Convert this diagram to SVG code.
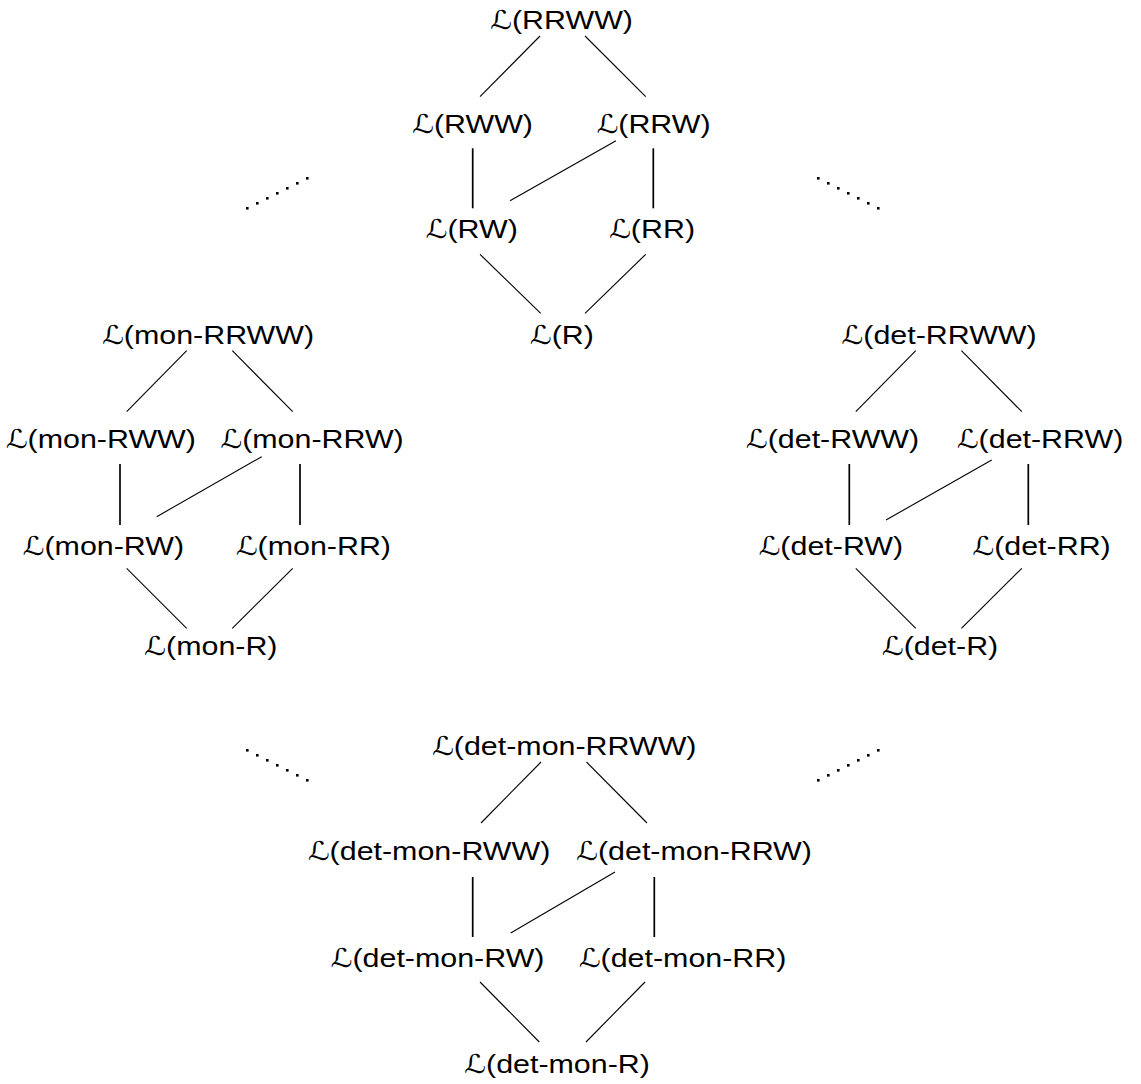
<svg xmlns="http://www.w3.org/2000/svg" xmlns:xlink="http://www.w3.org/1999/xlink" width="1141" height="1084" viewBox="0 0 1141 1084">
  <style>
    .lbl { font-family: "Liberation Sans", Arial, sans-serif; font-size: 26px; fill: #000; text-anchor: middle; }
    .cal { font-family: "DejaVu Serif", "DejaVu Sans", serif; }
    .edge { stroke: #000; stroke-width: 1.1; fill: none; }
    .edge .v { stroke-width: 1.7; }
    .dot { fill: #000; }
  </style>
  <defs>
    <rect id="dot" class="dot" x="-1.3" y="-1.3" width="2.6" height="2.6"/>
  </defs>
  <rect width="1141" height="1084" fill="#fff"/>

  <!-- connectors -->
  <g id="connectors" class="edge">
    <!-- base lattice -->
    <line x1="540" y1="36" x2="480" y2="96.7"/>
    <line x1="585" y1="36" x2="645.7" y2="96.7"/>
    <line class="v" x1="472.7" y1="148.3" x2="472.7" y2="208.3"/>
    <line class="v" x1="653.3" y1="148.3" x2="653.3" y2="208.3"/>
    <line x1="616" y1="140.7" x2="510" y2="200.7"/>
    <line x1="480" y1="254.3" x2="540.7" y2="313.3"/>
    <line x1="645.7" y1="254.3" x2="585" y2="313.3"/>
    <!-- mon lattice -->
    <line x1="186.7" y1="350.7" x2="126.7" y2="411.7"/>
    <line x1="232.3" y1="350.7" x2="292.7" y2="411.7"/>
    <line class="v" x1="120" y1="464" x2="120" y2="525"/>
    <line class="v" x1="300" y1="464" x2="300" y2="525"/>
    <line x1="261.7" y1="456.7" x2="156.7" y2="516.7"/>
    <line x1="126.7" y1="568.3" x2="186.7" y2="628.3"/>
    <line x1="292.7" y1="568.3" x2="232.3" y2="628.3"/>
    <!-- det lattice -->
    <line x1="915.8" y1="350.7" x2="855.8" y2="411.7"/>
    <line x1="961.4" y1="350.7" x2="1021.8" y2="411.7"/>
    <line class="v" x1="849.3" y1="464" x2="849.3" y2="525"/>
    <line class="v" x1="1028.3" y1="464" x2="1028.3" y2="525"/>
    <line x1="991.7" y1="460" x2="886" y2="520"/>
    <line x1="855.8" y1="568.3" x2="915.8" y2="628.3"/>
    <line x1="1021.8" y1="568.3" x2="961.4" y2="628.3"/>
    <!-- det-mon lattice -->
    <line x1="541" y1="762" x2="481" y2="823"/>
    <line x1="586.5" y1="762" x2="647" y2="823"/>
    <line class="v" x1="472.7" y1="877" x2="472.7" y2="937"/>
    <line class="v" x1="654.3" y1="877" x2="654.3" y2="937"/>
    <line x1="615" y1="872" x2="510.7" y2="933"/>
    <line x1="480" y1="982" x2="539.3" y2="1042"/>
    <line x1="645" y1="982" x2="586" y2="1042"/>
  </g>

  <!-- diagonal ellipses between the lattices -->
  <g id="ellipses">
    <use xlink:href="#dot" x="247.3" y="208.3"/><use xlink:href="#dot" x="257.3" y="203.3"/><use xlink:href="#dot" x="267.3" y="198.3"/><use xlink:href="#dot" x="277.3" y="193.3"/><use xlink:href="#dot" x="287.3" y="188.3"/><use xlink:href="#dot" x="297.3" y="183.3"/><use xlink:href="#dot" x="307.3" y="178.3"/>
    <use xlink:href="#dot" x="818.3" y="178.3"/><use xlink:href="#dot" x="828.3" y="183.3"/><use xlink:href="#dot" x="838.3" y="188.3"/><use xlink:href="#dot" x="848.3" y="193.3"/><use xlink:href="#dot" x="858.3" y="198.3"/><use xlink:href="#dot" x="868.3" y="203.3"/><use xlink:href="#dot" x="878.3" y="208.3"/>
    <use xlink:href="#dot" x="247.3" y="750.3"/><use xlink:href="#dot" x="257.3" y="755.3"/><use xlink:href="#dot" x="267.3" y="760.3"/><use xlink:href="#dot" x="277.3" y="765.3"/><use xlink:href="#dot" x="287.3" y="770.3"/><use xlink:href="#dot" x="297.3" y="775.3"/><use xlink:href="#dot" x="307.3" y="780.3"/>
    <use xlink:href="#dot" x="818.3" y="780.3"/><use xlink:href="#dot" x="828.3" y="775.3"/><use xlink:href="#dot" x="838.3" y="770.3"/><use xlink:href="#dot" x="848.3" y="765.3"/><use xlink:href="#dot" x="858.3" y="760.3"/><use xlink:href="#dot" x="868.3" y="755.3"/><use xlink:href="#dot" x="878.3" y="750.3"/>
  </g>

  <!-- base lattice nodes -->
  <g id="n-RRWW" transform="translate(561.5,29)"><text class="lbl" transform="scale(1.17,1)"><tspan class="cal">ℒ</tspan>(RRWW)</text></g>
  <g id="n-RWW" transform="translate(472.5,133)"><text class="lbl" transform="scale(1.17,1)"><tspan class="cal">ℒ</tspan>(RWW)</text></g>
  <g id="n-RRW" transform="translate(653.5,133)"><text class="lbl" transform="scale(1.17,1)"><tspan class="cal">ℒ</tspan>(RRW)</text></g>
  <g id="n-RW" transform="translate(471.7,238)"><text class="lbl" transform="scale(1.17,1)"><tspan class="cal">ℒ</tspan>(RW)</text></g>
  <g id="n-RR" transform="translate(652,238)"><text class="lbl" transform="scale(1.17,1)"><tspan class="cal">ℒ</tspan>(RR)</text></g>
  <g id="n-R" transform="translate(561.8,344)"><text class="lbl" transform="scale(1.17,1)"><tspan class="cal">ℒ</tspan>(R)</text></g>

  <!-- mon lattice nodes -->
  <g id="n-mon-RRWW" transform="translate(208,344.3)"><text class="lbl" transform="scale(1.17,1)"><tspan class="cal">ℒ</tspan>(mon-RRWW)</text></g>
  <g id="n-mon-RWW" transform="translate(100.8,448.3)"><text class="lbl" transform="scale(1.17,1)"><tspan class="cal">ℒ</tspan>(mon-RWW)</text></g>
  <g id="n-mon-RRW" transform="translate(312,448.3)"><text class="lbl" transform="scale(1.17,1)"><tspan class="cal">ℒ</tspan>(mon-RRW)</text></g>
  <g id="n-mon-RW" transform="translate(103.3,555)"><text class="lbl" transform="scale(1.17,1)"><tspan class="cal">ℒ</tspan>(mon-RW)</text></g>
  <g id="n-mon-RR" transform="translate(313.3,555)"><text class="lbl" transform="scale(1.17,1)"><tspan class="cal">ℒ</tspan>(mon-RR)</text></g>
  <g id="n-mon-R" transform="translate(210.8,655)"><text class="lbl" transform="scale(1.17,1)"><tspan class="cal">ℒ</tspan>(mon-R)</text></g>

  <!-- det lattice nodes -->
  <g id="n-det-RRWW" transform="translate(939,344.3)"><text class="lbl" transform="scale(1.17,1)"><tspan class="cal">ℒ</tspan>(det-RRWW)</text></g>
  <g id="n-det-RWW" transform="translate(832.5,448.3)"><text class="lbl" transform="scale(1.17,1)"><tspan class="cal">ℒ</tspan>(det-RWW)</text></g>
  <g id="n-det-RRW" transform="translate(1040,448.3)"><text class="lbl" transform="scale(1.17,1)"><tspan class="cal">ℒ</tspan>(det-RRW)</text></g>
  <g id="n-det-RW" transform="translate(830.8,555)"><text class="lbl" transform="scale(1.17,1)"><tspan class="cal">ℒ</tspan>(det-RW)</text></g>
  <g id="n-det-RR" transform="translate(1041.5,555)"><text class="lbl" transform="scale(1.17,1)"><tspan class="cal">ℒ</tspan>(det-RR)</text></g>
  <g id="n-det-R" transform="translate(940,655)"><text class="lbl" transform="scale(1.17,1)"><tspan class="cal">ℒ</tspan>(det-R)</text></g>

  <!-- det-mon lattice nodes -->
  <g id="n-det-mon-RRWW" transform="translate(564.2,755)"><text class="lbl" transform="scale(1.17,1)"><tspan class="cal">ℒ</tspan>(det-mon-RRWW)</text></g>
  <g id="n-det-mon-RWW" transform="translate(429,860)"><text class="lbl" transform="scale(1.17,1)"><tspan class="cal">ℒ</tspan>(det-mon-RWW)</text></g>
  <g id="n-det-mon-RRW" transform="translate(694,860)"><text class="lbl" transform="scale(1.17,1)"><tspan class="cal">ℒ</tspan>(det-mon-RRW)</text></g>
  <g id="n-det-mon-RW" transform="translate(437.5,967)"><text class="lbl" transform="scale(1.17,1)"><tspan class="cal">ℒ</tspan>(det-mon-RW)</text></g>
  <g id="n-det-mon-RR" transform="translate(682.5,967)"><text class="lbl" transform="scale(1.17,1)"><tspan class="cal">ℒ</tspan>(det-mon-RR)</text></g>
  <g id="n-det-mon-R" transform="translate(557,1073)"><text class="lbl" transform="scale(1.17,1)"><tspan class="cal">ℒ</tspan>(det-mon-R)</text></g>
</svg>
